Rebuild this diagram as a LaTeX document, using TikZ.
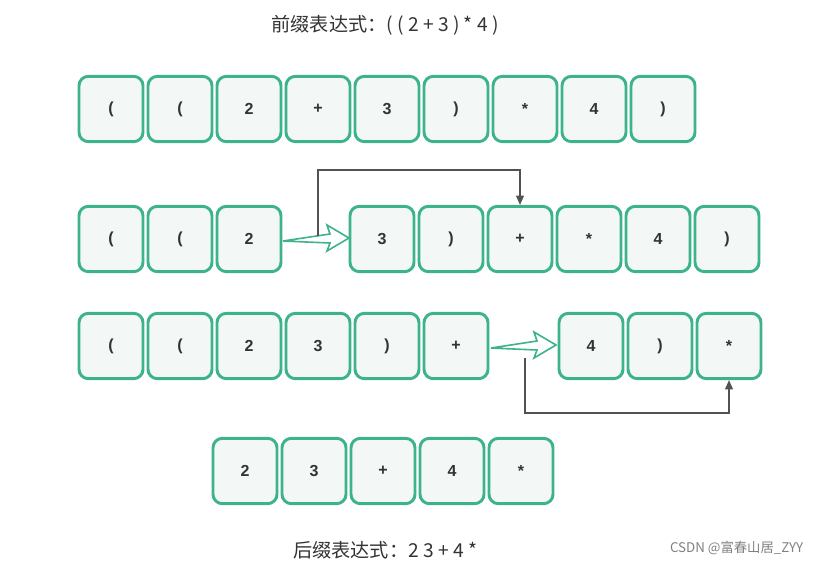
\documentclass[tikz,border=0pt]{standalone}
\usepackage{fontspec}
\setmainfont{Liberation Sans}
\newfontfamily\cjk{Noto Sans CJK SC}
\usetikzlibrary{arrows.meta}
\definecolor{boxgreen}{HTML}{3DB38A}
\definecolor{boxfill}{HTML}{F3F7F5}
\definecolor{txtdark}{HTML}{333333}
\newcommand{\lp}{(}
\newcommand{\rp}{)}
\tikzset{
	cell/.style={draw=boxgreen, fill=boxfill, line width=2.2pt, rounded corners=7pt,
		minimum width=48pt, minimum height=49pt, inner sep=0pt,
		font=\bfseries\large, text=txtdark},
	link/.style={draw=txtdark!85, line width=0.8pt, -{Triangle[length=7pt,width=6pt]}},
	hollow/.style={draw=boxgreen, fill=white, line width=1.2pt, line join=miter}
}
\begin{document}
\begin{tikzpicture}[x=0.75pt, y=-0.75pt]
	\useasboundingbox (0,0) rectangle (823,568);
	
	% --- Titel ---
	\node[font=\cjk\Large, text=txtdark] (pre) at (385,25) {前缀表达式：( ( 2 + 3 ) * 4 )};
	\node[font=\cjk\Large, text=txtdark] (post) at (385,550) {后缀表达式：2 3 + 4 *};
	\node[font=\cjk, text=gray, anchor=east] (mark) at (808,548) {CSDN @富春山居\_ZYY};
	
	% --- Zeile 1 ---
	\foreach \t [count=\i] in {\lp,\lp,2,+,3,\rp,*,4,\rp}
		\node[cell] (a\i) at ({111+69*(\i-1)},109) {\t};
	
	% --- Zeile 2 ---
	\foreach \t [count=\i] in {\lp,\lp,2}
		\node[cell] (b\i) at ({111+69*(\i-1)},239) {\t};
	\foreach \t [count=\i] in {3,\rp,+,*,4,\rp}
		\node[cell] (c\i) at ({382+69*(\i-1)},239) {\t};
	\draw[hollow] (283,241) -- (330,234) -- (327,225) -- (349,238) -- (327,251) -- (330,243) -- cycle;
	\coordinate (u1) at (318,236);
	\draw[link] (u1) -- (318,170) -| (c3.north);
	
	% --- Zeile 3 ---
	\foreach \t [count=\i] in {\lp,\lp,2,3,\rp,+}
		\node[cell] (d\i) at ({111+69*(\i-1)},346) {\t};
	\foreach \t [count=\i] in {4,\rp,*}
		\node[cell] (e\i) at ({591+69*(\i-1)},346) {\t};
	\draw[hollow] (491,348) -- (537,341) -- (534,332) -- (556,345) -- (534,358) -- (537,350) -- cycle;
	\coordinate (u2) at (525,358);
	\draw[link] (u2) -- (525,413) -| (e3.south);
	
	% --- Zeile 4 ---
	\foreach \t [count=\i] in {2,3,+,4,*}
		\node[cell] (f\i) at ({245+69*(\i-1)},471) {\t};
\end{tikzpicture}
\end{document}
